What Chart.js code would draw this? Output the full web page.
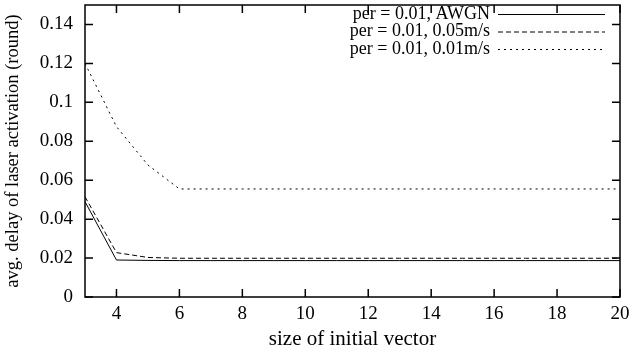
<!DOCTYPE html>
<html>
<head>
<meta charset="utf-8">
<script src="https://cdn.jsdelivr.net/npm/chart.js@4"></script>
<style>
  html, body { margin: 0; padding: 0; background: #fff; }
  #wrap { width: 642px; height: 352px; }
</style>
</head>
<body>
<div id="wrap"><canvas id="delayChart"></canvas></div>
<script>
// data
const vectorSizes = [3, 4, 5, 6, 7, 8, 9, 10, 11, 12, 13, 14, 15, 16, 17, 18, 19, 20];
const awgnDelay  = [0.049, 0.019, 0.0188, 0.0187, 0.0187, 0.0187, 0.0187, 0.0187, 0.0187, 0.0187, 0.0187, 0.0187, 0.0187, 0.0187, 0.0187, 0.0187, 0.0187, 0.0187];
const speed05Delay = [0.0515, 0.0228, 0.0203, 0.0199, 0.0199, 0.0199, 0.0199, 0.0199, 0.0199, 0.0199, 0.0199, 0.0199, 0.0199, 0.0199, 0.0199, 0.0199, 0.0199, 0.0199];
const speed01Delay = [0.120, 0.0875, 0.0678, 0.0555, 0.0555, 0.0555, 0.0555, 0.0555, 0.0555, 0.0555, 0.0555, 0.0555, 0.0555, 0.0555, 0.0555, 0.0555, 0.0555, 0.0555];
const seriesLabels = ['per = 0.01, AWGN', 'per = 0.01, 0.05m/s', 'per = 0.01, 0.01m/s'];
const seriesDashes = [[], [5, 3], [2, 4]];
const xTicks = [4, 6, 8, 10, 12, 14, 16, 18, 20];
const yTicks = [0, 0.02, 0.04, 0.06, 0.08, 0.1, 0.12, 0.14];

const FONT = '"Liberation Serif", "Times New Roman", serif';

// gnuplot-like frame with inward ticks + legend in the top right corner
const framePlugin = {
  id: 'frame',
  afterDatasetsDraw(chart) {
    const { ctx, chartArea: a, scales } = chart;
    ctx.save();
    ctx.strokeStyle = '#000';
    ctx.lineWidth = 1.5;
    ctx.strokeRect(a.left, a.top, a.right - a.left, a.bottom - a.top);
    ctx.beginPath();
    xTicks.forEach(v => {
      const x = scales.x.getPixelForValue(v);
      ctx.moveTo(x, a.bottom); ctx.lineTo(x, a.bottom - 8);
      ctx.moveTo(x, a.top); ctx.lineTo(x, a.top + 8);
    });
    yTicks.forEach(v => {
      const y = scales.y.getPixelForValue(v);
      ctx.moveTo(a.left, y); ctx.lineTo(a.left + 8, y);
      ctx.moveTo(a.right, y); ctx.lineTo(a.right - 8, y);
    });
    ctx.stroke();

    // legend
    ctx.font = '18px ' + FONT;
    ctx.fillStyle = '#000';
    ctx.textAlign = 'right';
    ctx.textBaseline = 'middle';
    ctx.lineWidth = 1;
    chart.data.datasets.forEach((ds, i) => {
      const y = 14 + i * 17.5;
      ctx.fillText(ds.label, 490, y);
      ctx.setLineDash(ds.borderDash || []);
      ctx.beginPath();
      ctx.moveTo(498, y + 0.5);
      ctx.lineTo(605, y + 0.5);
      ctx.stroke();
    });
    ctx.restore();
  }
};

const noLabelPadding = axis => {
  axis.paddingTop = 0; axis.paddingBottom = 0;
  axis.paddingLeft = 0; axis.paddingRight = 0;
};

const datasets = [awgnDelay, speed05Delay, speed01Delay].map((vals, i) => ({
  label: seriesLabels[i],
  data: vectorSizes.map((x, j) => ({ x: x, y: vals[j] })),
  borderColor: '#000',
  borderWidth: 1,
  borderDash: seriesDashes[i],
  pointRadius: 0,
  fill: false,
  tension: 0
}));

new Chart(document.getElementById('delayChart'), {
  type: 'line',
  data: { datasets: datasets },
  options: {
    responsive: true,
    maintainAspectRatio: false,
    animation: false,
    layout: { padding: { left: 0, right: 22, top: 5, bottom: 0 } },
    plugins: { legend: { display: false }, tooltip: { enabled: false } },
    scales: {
      x: {
        type: 'linear',
        min: 3,
        max: 20,
        afterBuildTicks: axis => { axis.ticks = xTicks.map(v => ({ value: v })); },
        afterFit: axis => { axis.height = 55; noLabelPadding(axis); },
        grid: { display: false, drawTicks: false },
        border: { display: false },
        ticks: { color: '#000', padding: 6, font: { family: FONT, size: 19 }, maxRotation: 0 },
        title: { display: true, text: 'size of initial vector', color: '#000', font: { family: FONT, size: 21 }, padding: { top: 0, bottom: 0 } }
      },
      y: {
        min: 0,
        max: 0.15,
        afterBuildTicks: axis => { axis.ticks = yTicks.map(v => ({ value: v })); },
        afterFit: axis => { axis.width = 85; noLabelPadding(axis); },
        grid: { display: false, drawTicks: false },
        border: { display: false },
        ticks: { color: '#000', padding: 12, font: { family: FONT, size: 19 }, callback: v => String(Math.round(v * 100) / 100) },
        title: { display: true, text: 'avg. delay of laser activation (round)', color: '#000', font: { family: FONT, size: 18.5 }, padding: { top: 2, bottom: 0 } }
      }
    }
  },
  plugins: [framePlugin]
});
</script>
</body>
</html>
